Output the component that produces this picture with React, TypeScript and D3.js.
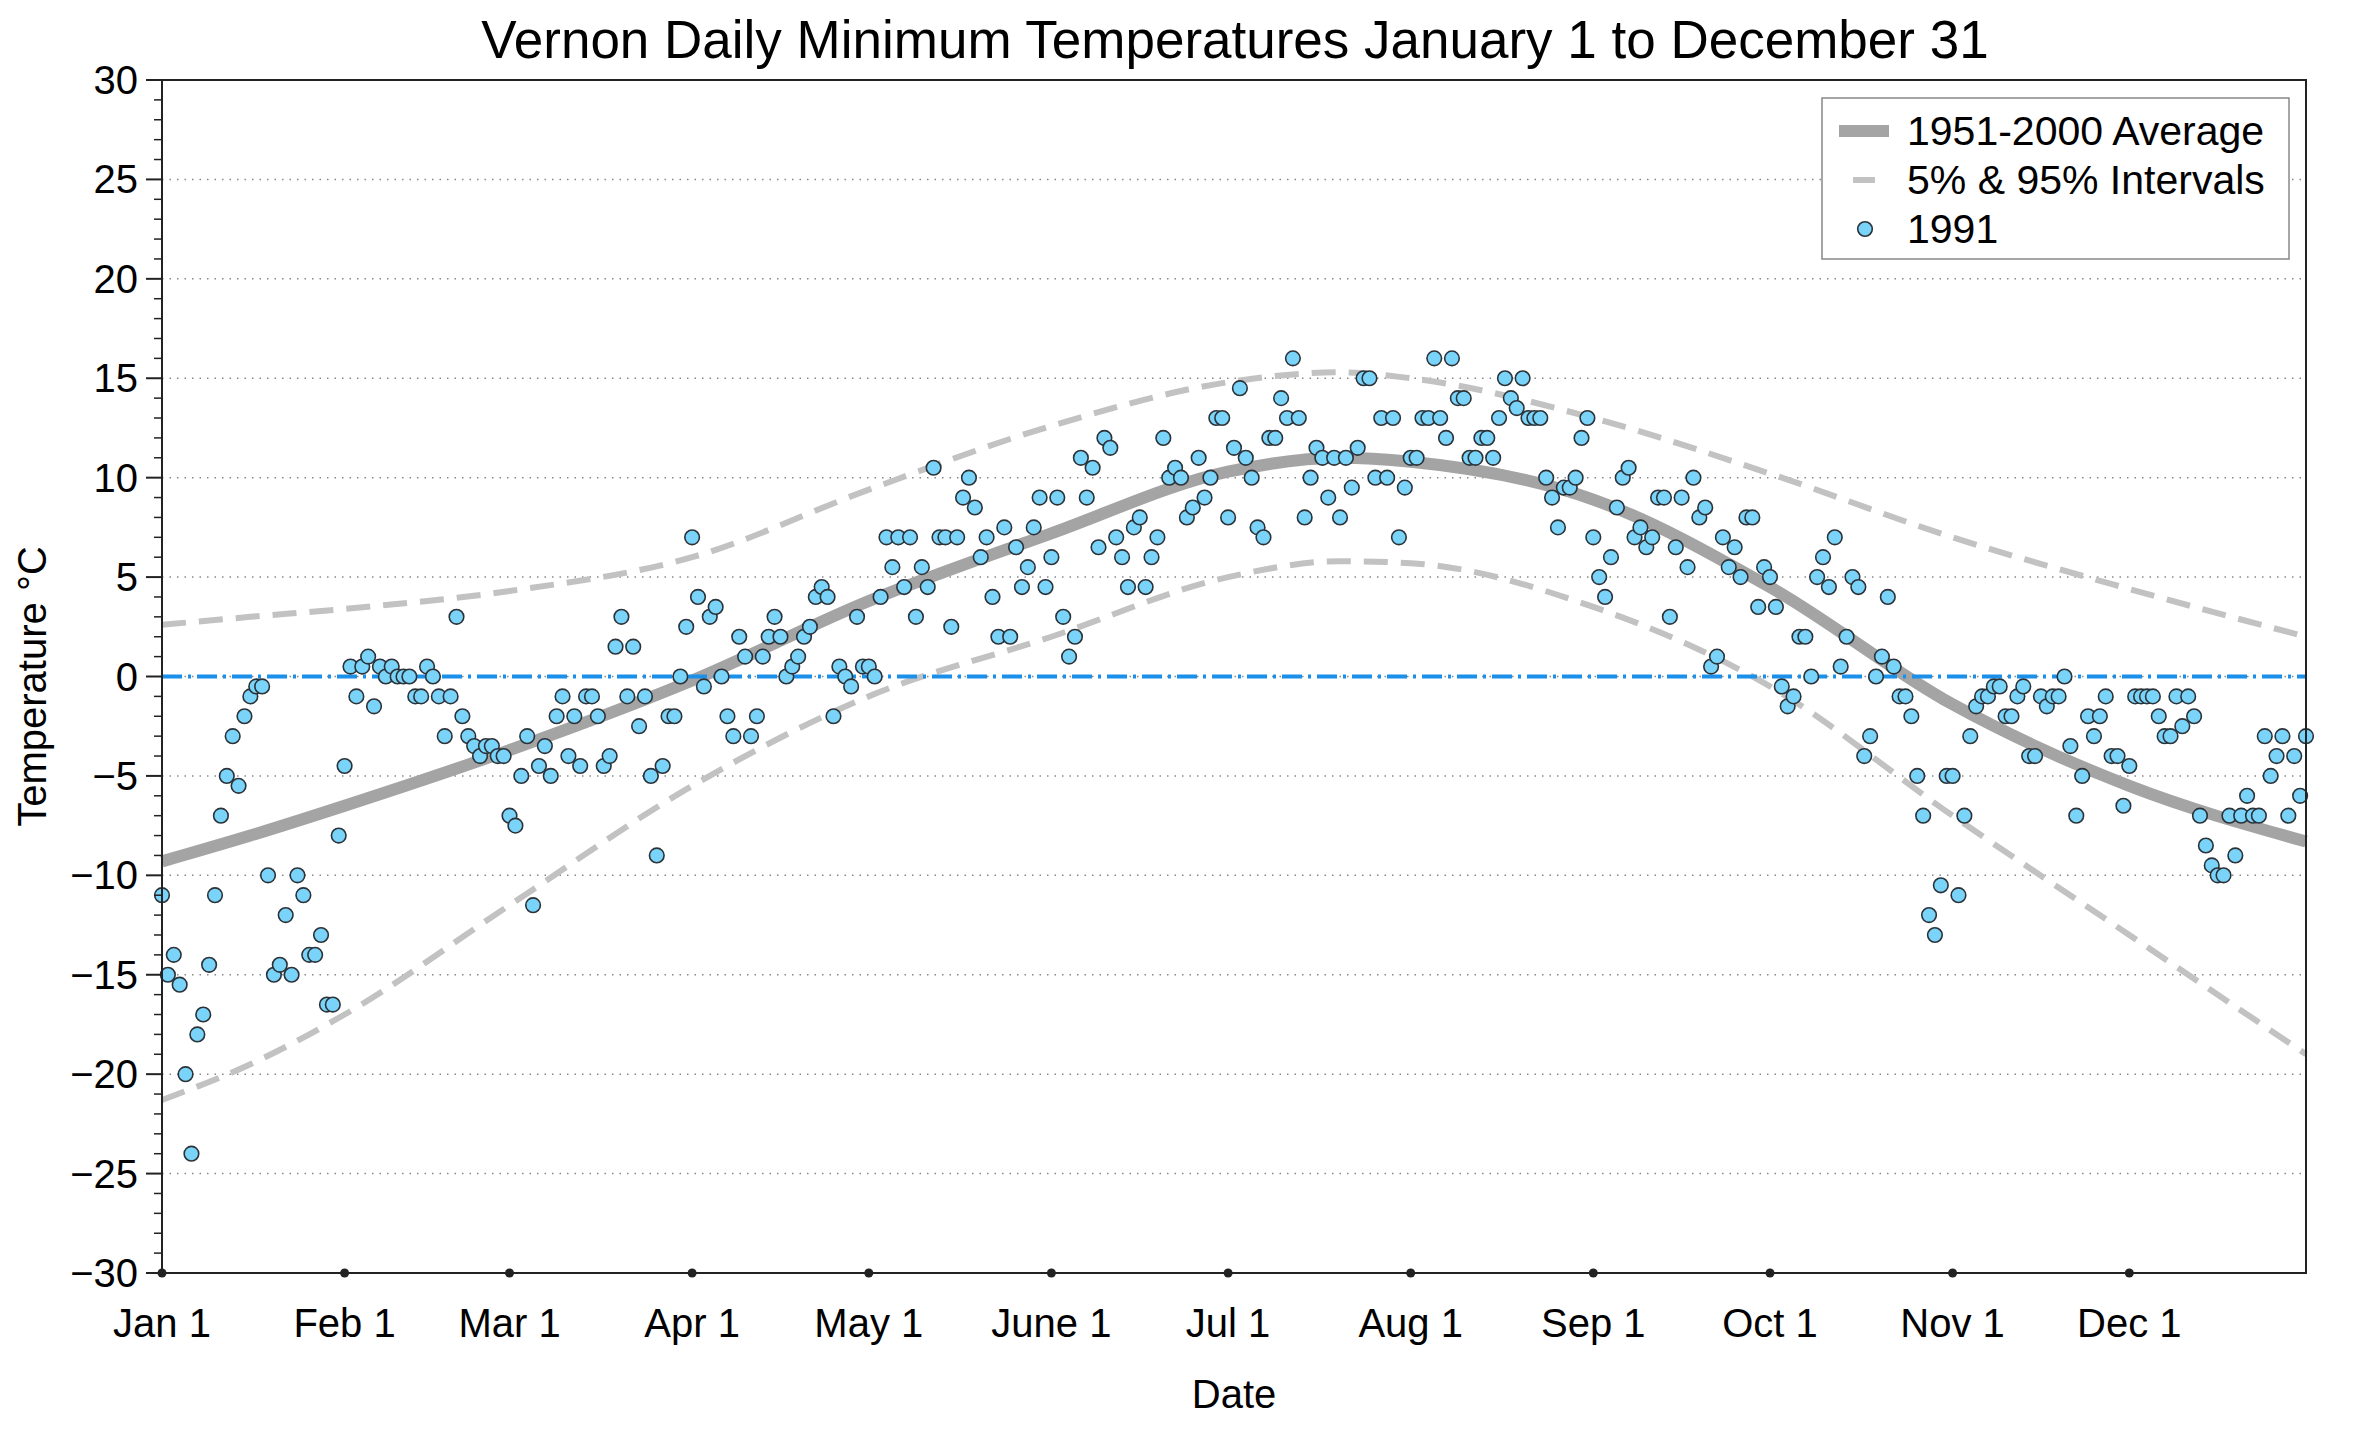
import * as d3 from 'd3'

const temps1991 = [
  -11, -15, -14, -15.5, -20, -24, -18, -17, -14.5, -11, -7, -5, -3, -5.5, -2, -1, -0.5, -0.5, -10, -15,
  -14.5, -12, -15, -10, -11, -14, -14, -13, -16.5, -16.5, -8, -4.5, 0.5, -1, 0.5, 1, -1.5, 0.5, 0, 0.5,
  0, 0, 0, -1, -1, 0.5, 0, -1, -3, -1, 3, -2, -3, -3.5, -4, -3.5, -3.5, -4, -4, -7,
  -7.5, -5, -3, -11.5, -4.5, -3.5, -5, -2, -1, -4, -2, -4.5, -1, -1, -2, -4.5, -4, 1.5, 3, -1,
  1.5, -2.5, -1, -5, -9, -4.5, -2, -2, 0, 2.5, 7, 4, -0.5, 3, 3.5, 0, -2, -3, 2, 1,
  -3, -2, 1, 2, 3, 2, 0, 0.5, 1, 2, 2.5, 4, 4.5, 4, -2, 0.5, 0, -0.5, 3, 0.5,
  0.5, 0, 4, 7, 5.5, 7, 4.5, 7, 3, 5.5, 4.5, 10.5, 7, 7, 2.5, 7, 9, 10, 8.5, 6,
  7, 4, 2, 7.5, 2, 6.5, 4.5, 5.5, 7.5, 9, 4.5, 6, 9, 3, 1, 2, 11, 9, 10.5, 6.5,
  12, 11.5, 7, 6, 4.5, 7.5, 8, 4.5, 6, 7, 12, 10, 10.5, 10, 8, 8.5, 11, 9, 10, 13,
  13, 8, 11.5, 14.5, 11, 10, 7.5, 7, 12, 12, 14, 13, 16, 13, 8, 10, 11.5, 11, 9, 11,
  8, 11, 9.5, 11.5, 15, 15, 10, 13, 10, 13, 7, 9.5, 11, 11, 13, 13, 16, 13, 12, 16,
  14, 14, 11, 11, 12, 12, 11, 13, 15, 14, 13.5, 15, 13, 13, 13, 10, 9, 7.5, 9.5, 9.5,
  10, 12, 13, 7, 5, 4, 6, 8.5, 10, 10.5, 7, 7.5, 6.5, 7, 9, 9, 3, 6.5, 9, 5.5,
  10, 8, 8.5, 0.5, 1, 7, 5.5, 6.5, 5, 8, 8, 3.5, 5.5, 5, 3.5, -0.5, -1.5, -1, 2, 2,
  0, 5, 6, 4.5, 7, 0.5, 2, 5, 4.5, -4, -3, 0, 1, 4, 0.5, -1, -1, -2, -5, -7,
  -12, -13, -10.5, -5, -5, -11, -7, -3, -1.5, -1, -1, -0.5, -0.5, -2, -2, -1, -0.5, -4, -4, -1,
  -1.5, -1, -1, 0, -3.5, -7, -5, -2, -3, -2, -1, -4, -4, -6.5, -4.5, -1, -1, -1, -1, -2,
  -3, -3, -1, -2.5, -1, -2, -7, -8.5, -9.5, -10, -10, -7, -9, -7, -6, -7, -7, -3, -5, -4,
  -3, -7, -4, -6, -3
]

// reference curves read at month starts (day of year)
const curveDays = [0, 15, 31, 59, 90, 120, 151, 181, 200, 212, 243, 273, 304, 334, 364]
const avgTemps = [-9.3, -8.0, -6.5, -3.7, -0.2, 3.8, 7.2, 10.3, 11.0, 10.8, 8.9, 4.5, -1.4, -5.5, -8.3]
const upperTemps = [2.6, 3.0, 3.4, 4.3, 6.0, 9.4, 12.6, 14.8, 15.3, 15.0, 13.0, 10.2, 7.0, 4.4, 2.0]
const lowerTemps = [-21.3, -19.5, -17.0, -11.5, -5.5, -1.0, 2.0, 5.0, 5.8, 5.7, 3.5, -0.5, -7.0, -13.0, -19.0]

const monthDays = [0, 31, 59, 90, 120, 151, 181, 212, 243, 273, 304, 334]
const monthLabels = ['Jan 1', 'Feb 1', 'Mar 1', 'Apr 1', 'May 1', 'June 1', 'Jul 1', 'Aug 1', 'Sep 1', 'Oct 1', 'Nov 1', 'Dec 1']
const majorTicks = [-30, -25, -20, -15, -10, -5, 0, 5, 10, 15, 20, 25, 30]

const App = () => {
  const W = 2360
  const H = 1432
  const left = 162
  const right = 2306
  const top = 80
  const bottom = 1273
  const font = 'Liberation Sans, Arial, sans-serif'

  const x = d3.scaleLinear().domain([0, 364]).range([left, right])
  const y = d3.scaleLinear().domain([-30, 30]).range([bottom, top])

  const curve = (vals: number[]) =>
    d3.line<number>()
      .x((_, i) => x(curveDays[i]))
      .y(d => y(d))
      .curve(d3.curveMonotoneX)(vals) || ''

  const minorTicks = d3.range(-30, 31, 1).filter(v => v % 5 !== 0)

  return (
    <svg width={W} height={H} style={{ position: 'absolute', left: 0, top: 0, background: '#fff' }}>
      <text x={1235} y={58} fontFamily={font} fontSize={53} textAnchor="middle">
        Vernon Daily Minimum Temperatures January 1 to December 31
      </text>

      {majorTicks.filter(v => v > -30 && v < 30).map(v => (
        <line key={'g' + v} x1={left} x2={right} y1={y(v)} y2={y(v)} stroke="#888" strokeWidth={1.5} strokeDasharray="1.5 6" />
      ))}

      <path d={curve(upperTemps)} fill="none" stroke="#c2c2c2" strokeWidth={6} strokeDasharray="24 13" />
      <path d={curve(lowerTemps)} fill="none" stroke="#c2c2c2" strokeWidth={6} strokeDasharray="24 13" />
      <path d={curve(avgTemps)} fill="none" stroke="#a4a4a4" strokeWidth={12} />

      <line x1={left} x2={right} y1={y(0)} y2={y(0)} stroke="#1a90ea" strokeWidth={4} strokeDasharray="20 6 3 6" />

      {temps1991.map((t, i) => (
        <circle key={i} cx={x(i)} cy={y(t)} r={7.3} fill="#7ad3f8" stroke="#2b3238" strokeWidth={1.6} />
      ))}

      <rect x={left} y={top} width={right - left} height={bottom - top} fill="none" stroke="#222" strokeWidth={2} />

      {majorTicks.map(v => (
        <g key={'t' + v}>
          <line x1={left - 16} x2={left} y1={y(v)} y2={y(v)} stroke="#222" strokeWidth={2} />
          <text x={left - 24} y={y(v) + 14} fontFamily={font} fontSize={40} textAnchor="end">
            {v < 0 ? '\u2212' + Math.abs(v) : v}
          </text>
        </g>
      ))}
      {minorTicks.map(v => (
        <line key={'m' + v} x1={left - 8} x2={left} y1={y(v)} y2={y(v)} stroke="#222" strokeWidth={1.5} />
      ))}

      {monthDays.map((d, i) => (
        <g key={'x' + d}>
          <circle cx={x(d)} cy={bottom} r={4.5} fill="#222" />
          <text x={x(d)} y={1337} fontFamily={font} fontSize={40} textAnchor="middle">{monthLabels[i]}</text>
        </g>
      ))}

      <text x={1234} y={1408} fontFamily={font} fontSize={40} textAnchor="middle">Date</text>
      <text transform={`translate(46, ${y(0) + 10}) rotate(-90)`} fontFamily={font} fontSize={40} textAnchor="middle">
        Temperature °C
      </text>

      <g>
        <rect x={1822} y={98} width={467} height={161} fill="#fff" stroke="#888" strokeWidth={1.5} />
        <line x1={1839} x2={1889} y1={131} y2={131} stroke="#a4a4a4" strokeWidth={12} />
        <line x1={1853} x2={1875} y1={180} y2={180} stroke="#c2c2c2" strokeWidth={6} />
        <circle cx={1865} cy={229} r={7.3} fill="#7ad3f8" stroke="#2b3238" strokeWidth={1.6} />
        <text x={1907} y={145} fontFamily={font} fontSize={41}>1951-2000 Average</text>
        <text x={1907} y={194} fontFamily={font} fontSize={41}>5% &amp; 95% Intervals</text>
        <text x={1907} y={243} fontFamily={font} fontSize={41}>1991</text>
      </g>
    </svg>
  )
}

export default App
